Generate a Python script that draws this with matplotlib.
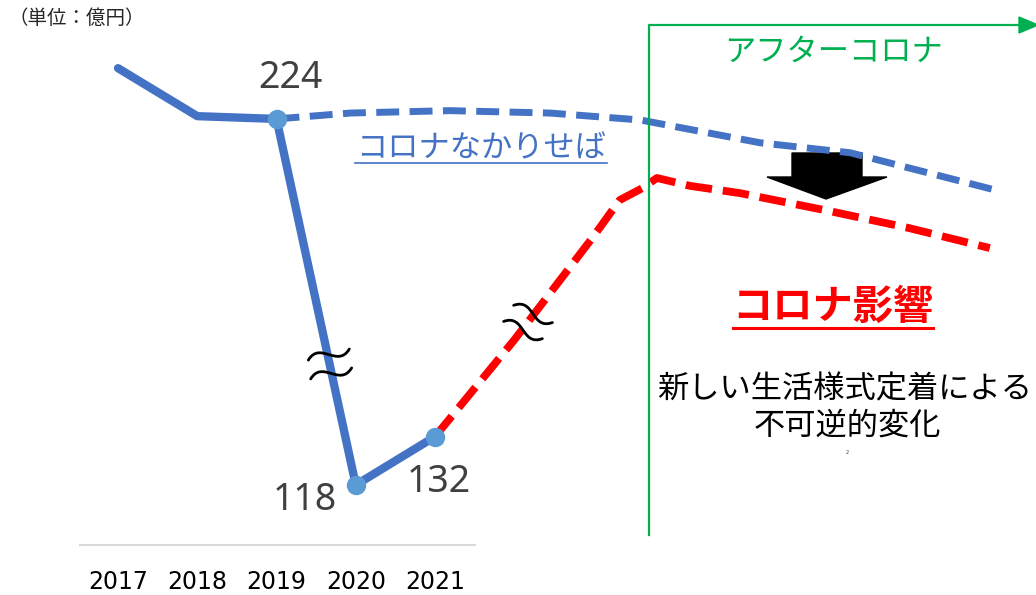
import matplotlib
matplotlib.use("Agg")
import numpy as np
import matplotlib.pyplot as plt
import matplotlib.transforms as mtransforms
from matplotlib.patches import Polygon, PathPatch
from matplotlib.path import Path

# --- data (億円) ---
years = [2017, 2018, 2019, 2020, 2021]
actual = [238.7, 224.8, 224, 118, 132]
labeled_years = [2019, 2020, 2021]
labeled_vals = [224, 118, 132]

# projection without covid
no_covid_x = [2019, 2019.93, 2021.19, 2022.45, 2023.59, 2025.1, 2026.24, 2026.93, 2028.07]
no_covid = [224, 225.7, 226.4, 225.7, 223.7, 217.1, 214.2, 210.1, 203.4]

# projection with covid impact
covid_x = [2021, 2022, 2023, 2023.33, 2023.62, 2023.8, 2024.22, 2024.85, 2025.98, 2026.98, 2028.0]
covid = [132, 160, 190, 200.5, 204.0, 206.9, 204.6, 202.5, 197.3, 192.4, 186.6]

W, H = 1036, 595
BLUE = "#4472C4"
MARK = "#5B9BD5"
GREEN = "#00B050"
CJK = ["Noto Sans CJK JP", "DejaVu Sans"]

fig = plt.figure(figsize=(W / 100, H / 100), dpi=100)
ax = fig.add_axes([0, 0, 1, 1])
ax.axis("off")
ax.set_xlim(2015.511, 2028.583)
ax.set_ylim(86.13, 258.44)

# pixel coordinates (origin top-left) for the decorations
pix = mtransforms.Affine2D().scale(1 / W, -1 / H).translate(0, 1) + fig.transFigure
year_pix = mtransforms.blended_transform_factory(ax.transData, pix)

# lines
ax.plot(no_covid_x, no_covid, color=BLUE, lw=5, linestyle=(0, (3.3, 1.5)), zorder=2)
ax.plot(covid_x, covid, color="#FF0000", lw=5.6, linestyle=(0, (3.4, 1.4)), zorder=2)
ax.plot(years, actual, color=BLUE, lw=6, solid_capstyle="round", solid_joinstyle="round", zorder=3)
ax.plot(labeled_years, labeled_vals, "o", color=MARK, ms=14, mec="none", zorder=4)

# value labels
label_pos = [(290, 78), (305, 500), (439, 482)]
for (x, y), v in zip(label_pos, labeled_vals):
    ax.text(x, y, str(v), transform=pix, ha="center", va="center", fontsize=27,
            family="Noto Sans", color="#404040")

# baseline and year labels
ax.plot([80, 475], [545, 545], color="#D9D9D9", lw=1.5, transform=pix)
for yr in years:
    ax.text(yr, 582, str(yr), transform=year_pix, ha="center", va="center",
            fontsize=17, color="black")

# unit
ax.text(8, 18, "（単位：億円）", transform=pix, ha="left", va="center", fontsize=14,
        family=CJK, color="#262626")

# blue label
ax.text(481, 148, "コロナなかりせば", transform=pix, ha="center", va="center", fontsize=22.5,
        family=CJK, color=BLUE)
ax.plot([355, 607], [163, 163], color=BLUE, lw=1.2, transform=pix)

# green after-covid bracket
ax.plot([649, 649, 1022], [535, 25, 25], color=GREEN, lw=1.6, transform=pix, zorder=5)
ax.add_patch(Polygon([(1019, 17), (1038, 25), (1019, 33)], closed=True, color=GREEN,
                     transform=pix, zorder=5))
ax.text(834, 52, "アフターコロナ", transform=pix, ha="center", va="center", fontsize=22.5,
        family=CJK, color=GREEN)

# black down arrow
ax.add_patch(Polygon([(792, 153), (862, 153), (862, 177), (887, 177), (826, 199),
                      (767, 177), (792, 177)], closed=True, color="black",
                     transform=pix, zorder=1))

# covid impact text
ax.text(833, 307, "コロナ影響", transform=pix, ha="center", va="center", fontsize=29,
        family=CJK, weight="bold", color="#FF0000")
ax.plot([733, 933], [328, 328], color="#FF0000", lw=2.2, transform=pix)
ax.text(845, 389, "新しい生活様式定着による", transform=pix, ha="center", va="center",
        fontsize=22.5, family=CJK, color="black")
ax.text(847, 426, "不可逆的変化", transform=pix, ha="center", va="center",
        fontsize=22.5, family=CJK, color="black")
ax.text(847, 453, "2", transform=pix, ha="center", va="center", fontsize=3.5, color="#404040")


# wave (≈) marks drawn as two tildes
def tilde_pair(cx, cy, angle):
    t = np.radians(angle)
    c, s = np.cos(t), np.sin(t)
    base = [(-21, 3), (-7, -15), (7, 15), (21, -3)]
    for off in (-9.5, 9.5):
        pts = []
        for x, y in base:
            y = y + off
            pts.append((cx + x * c + y * s, cy - x * s + y * c))
        path = Path(pts, [Path.MOVETO, Path.CURVE4, Path.CURVE4, Path.CURVE4])
        ax.add_patch(PathPatch(path, fill=False, lw=2.0, color="black",
                               capstyle="round", transform=pix, zorder=6))


tilde_pair(330, 364, 7)
tilde_pair(528, 322, -32)

fig.savefig("out.png", dpi=100)
